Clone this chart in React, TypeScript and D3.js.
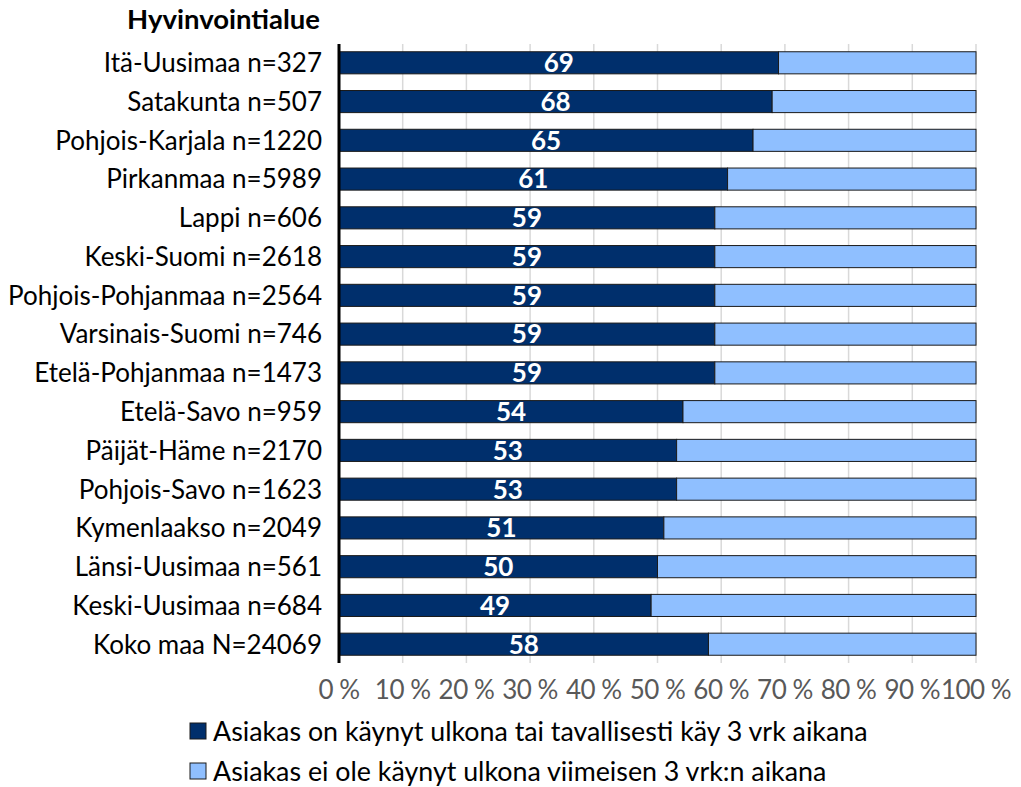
import { useEffect, useRef } from 'react';
import * as d3 from 'd3';

const regions = [
  'Itä-Uusimaa n=327',
  'Satakunta n=507',
  'Pohjois-Karjala n=1220',
  'Pirkanmaa n=5989',
  'Lappi n=606',
  'Keski-Suomi n=2618',
  'Pohjois-Pohjanmaa n=2564',
  'Varsinais-Suomi n=746',
  'Etelä-Pohjanmaa n=1473',
  'Etelä-Savo n=959',
  'Päijät-Häme n=2170',
  'Pohjois-Savo n=1623',
  'Kymenlaakso n=2049',
  'Länsi-Uusimaa n=561',
  'Keski-Uusimaa n=684',
  'Koko maa N=24069',
];

const outdoorValues = [69, 68, 65, 61, 59, 59, 59, 59, 59, 54, 53, 53, 51, 50, 49, 58];

const seriesNames = [
  'Asiakas on käynyt ulkona tai tavallisesti käy 3 vrk aikana',
  'Asiakas ei ole käynyt ulkona viimeisen 3 vrk:n aikana',
];
const seriesColors = ['#002f6c', '#8fbfff'];

const xTicks = [0, 10, 20, 30, 40, 50, 60, 70, 80, 90, 100];

const W = 1021;
const H = 787;
const FONT = 'Lato, "Noto Sans", sans-serif';

export default function App() {
  const svgRef = useRef<SVGSVGElement>(null);

  useEffect(() => {
    if (!svgRef.current) return;
    const svg = d3.select(svgRef.current);
    svg.selectAll('*').remove();

    const left = 339;
    const right = 976;
    const top = 44;
    const bottom = 663;

    const x = d3.scaleLinear().domain([0, 100]).range([left, right]);
    const y = d3.scaleBand().domain(regions).range([top, bottom]).paddingInner(0.43).paddingOuter(0.2);

    // gridlines
    svg.append('g')
      .selectAll('line')
      .data(xTicks)
      .enter().append('line')
      .attr('x1', d => x(d))
      .attr('x2', d => x(d))
      .attr('y1', top)
      .attr('y2', bottom)
      .attr('stroke', '#d9d9d9')
      .attr('stroke-width', 1.5);

    const rows = svg.append('g')
      .selectAll('g')
      .data(regions)
      .enter().append('g');

    rows.append('rect')
      .attr('x', x(0))
      .attr('y', d => y(d)!)
      .attr('width', (d, i) => x(outdoorValues[i]) - x(0))
      .attr('height', y.bandwidth())
      .attr('fill', seriesColors[0])
      .attr('stroke', '#1a1a1a')
      .attr('stroke-width', 1);

    rows.append('rect')
      .attr('x', (d, i) => x(outdoorValues[i]))
      .attr('y', d => y(d)!)
      .attr('width', (d, i) => x(100) - x(outdoorValues[i]))
      .attr('height', y.bandwidth())
      .attr('fill', seriesColors[1])
      .attr('stroke', '#1a1a1a')
      .attr('stroke-width', 1);

    rows.append('text')
      .attr('x', (d, i) => x(outdoorValues[i] / 2))
      .attr('y', d => y(d)! + y.bandwidth() / 2)
      .attr('dy', '0.36em')
      .attr('text-anchor', 'middle')
      .style('font-family', FONT)
      .style('font-size', '26px')
      .style('font-weight', 'bold')
      .style('fill', '#ffffff')
      .text((d, i) => outdoorValues[i]);

    rows.append('text')
      .attr('x', 322)
      .attr('y', d => y(d)! + y.bandwidth() / 2)
      .attr('dy', '0.36em')
      .attr('text-anchor', 'end')
      .style('font-family', FONT)
      .style('font-size', '26px')
      .style('fill', '#000')
      .text(d => d);

    // axis line
    svg.append('line')
      .attr('x1', left)
      .attr('x2', left)
      .attr('y1', top)
      .attr('y2', bottom)
      .attr('stroke', '#000')
      .attr('stroke-width', 3);

    svg.append('g')
      .selectAll('text')
      .data(xTicks)
      .enter().append('text')
      .attr('x', d => x(d))
      .attr('y', 699)
      .attr('text-anchor', 'middle')
      .style('font-family', FONT)
      .style('font-size', '26px')
      .style('letter-spacing', '-0.5px')
      .style('fill', '#595959')
      .text(d => `${d} %`);

    svg.append('text')
      .attr('x', 320)
      .attr('y', 29)
      .attr('text-anchor', 'end')
      .style('font-family', FONT)
      .style('font-size', '27.5px')
      .style('font-weight', 'bold')
      .text('Hyvinvointialue');

    const legend = svg.append('g')
      .selectAll('g')
      .data(seriesNames)
      .enter().append('g')
      .attr('transform', (d, i) => `translate(190, ${723 + i * 40})`);

    legend.append('rect')
      .attr('width', 16)
      .attr('height', 16)
      .attr('fill', (d, i) => seriesColors[i])
      .attr('stroke', '#1a1a1a')
      .attr('stroke-width', 1);

    legend.append('text')
      .attr('x', 23)
      .attr('y', 8)
      .attr('dy', '0.36em')
      .style('font-family', FONT)
      .style('font-size', '26.8px')
      .style('fill', '#000')
      .text(d => d);
  }, []);

  return (
    <div style={{ position: 'absolute', left: 0, top: 0 }}>
      <svg ref={svgRef} width={W} height={H} style={{ display: 'block', background: '#fff' }} />
    </div>
  );
}
